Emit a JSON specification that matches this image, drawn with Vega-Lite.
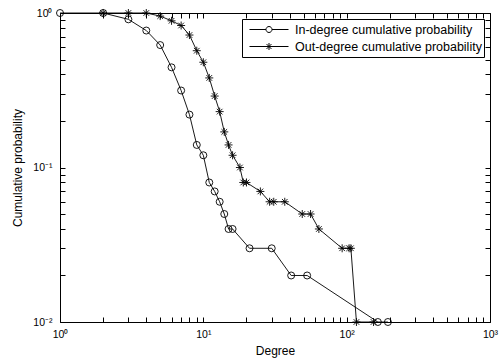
{
  "$schema": "https://vega.github.io/schema/vega-lite/v6.json",
  "width": 430,
  "height": 309,
  "autosize": {"type": "none"},
  "padding": {"left": 60, "top": 13, "right": 12, "bottom": 41},
  "background": "white",
  "config": {
    "view": {"stroke": "black", "strokeWidth": 1},
    "font": "Liberation Sans",
    "axis": {
      "domain": false,
      "grid": false,
      "ticks": true,
      "tickSize": -5,
      "tickColor": "black",
      "tickWidth": 1,
      "labelFont": "Liberation Sans",
      "labelFontSize": 10.5,
      "labelColor": "black",
      "labelOverlap": false,
      "labelFlush": false,
      "titleFont": "Liberation Sans",
      "titleFontSize": 12,
      "titleFontWeight": "normal",
      "titleColor": "black"
    },
    "legend": {
      "labelFont": "Liberation Sans",
      "labelFontSize": 12.5,
      "labelColor": "black",
      "labelLimit": 400
    }
  },
  "datasets": {
    "indeg": [
      {"degree": 1, "prob": 1},
      {"degree": 2, "prob": 1},
      {"degree": 3, "prob": 0.91},
      {"degree": 4, "prob": 0.77},
      {"degree": 5, "prob": 0.62},
      {"degree": 6, "prob": 0.445},
      {"degree": 7, "prob": 0.315},
      {"degree": 8, "prob": 0.22},
      {"degree": 9, "prob": 0.14},
      {"degree": 10, "prob": 0.12},
      {"degree": 11, "prob": 0.08},
      {"degree": 12, "prob": 0.07},
      {"degree": 13, "prob": 0.06},
      {"degree": 14, "prob": 0.05},
      {"degree": 15, "prob": 0.04},
      {"degree": 16, "prob": 0.04},
      {"degree": 21, "prob": 0.03},
      {"degree": 30, "prob": 0.03},
      {"degree": 41, "prob": 0.02},
      {"degree": 53, "prob": 0.02},
      {"degree": 165, "prob": 0.01},
      {"degree": 194, "prob": 0.01}
    ],
    "outdeg": [
      {"degree": 2, "prob": 1},
      {"degree": 3, "prob": 1},
      {"degree": 4, "prob": 1},
      {"degree": 5, "prob": 0.955},
      {"degree": 6, "prob": 0.89},
      {"degree": 7, "prob": 0.83},
      {"degree": 8, "prob": 0.72},
      {"degree": 9, "prob": 0.57},
      {"degree": 10, "prob": 0.48},
      {"degree": 11, "prob": 0.38},
      {"degree": 12, "prob": 0.29},
      {"degree": 13, "prob": 0.23},
      {"degree": 14, "prob": 0.17},
      {"degree": 15, "prob": 0.14},
      {"degree": 16, "prob": 0.12},
      {"degree": 18, "prob": 0.1},
      {"degree": 19, "prob": 0.08},
      {"degree": 20, "prob": 0.08},
      {"degree": 25, "prob": 0.07},
      {"degree": 29, "prob": 0.06},
      {"degree": 31, "prob": 0.06},
      {"degree": 37, "prob": 0.06},
      {"degree": 49, "prob": 0.05},
      {"degree": 56, "prob": 0.05},
      {"degree": 64, "prob": 0.04},
      {"degree": 93, "prob": 0.03},
      {"degree": 104, "prob": 0.03},
      {"degree": 107, "prob": 0.03},
      {"degree": 117, "prob": 0.01},
      {"degree": 154, "prob": 0.01}
    ],
    "legend": [
      {"series": "In-degree cumulative probability"},
      {"series": "Out-degree cumulative probability"}
    ]
  },
  "layer": [
    {
      "data": {"name": "indeg"},
      "mark": {"type": "line", "stroke": "black", "strokeWidth": 0.9},
      "encoding": {
        "x": {
          "field": "degree", "type": "quantitative",
          "scale": {"type": "log", "domain": [1, 1000], "nice": false},
          "axis": {
            "orient": "bottom",
            "title": "Degree",
            "titlePadding": 6,
            "labelPadding": 12,
            "values": [1,2,3,4,5,6,7,8,9,10,20,30,40,50,60,70,80,90,100,200,300,400,500,600,700,800,900,1000],
            "labelExpr": "datum.value === 1 ? '10⁰' : datum.value === 10 ? '10¹' : datum.value === 100 ? '10²' : datum.value === 1000 ? '10³' : ''"
          }
        },
        "y": {
          "field": "prob", "type": "quantitative",
          "scale": {"type": "log", "domain": [0.01, 1], "nice": false},
          "axis": {
            "orient": "left",
            "title": "Cumulative probability",
            "titlePadding": 8,
            "labelPadding": 13,
            "values": [0.01,0.02,0.03,0.04,0.05,0.06,0.07,0.08,0.09,0.1,0.2,0.3,0.4,0.5,0.6,0.7,0.8,0.9,1],
            "labelExpr": "datum.value === 1 ? '10⁰' : datum.value === 0.1 ? '10⁻¹' : datum.value === 0.01 ? '10⁻²' : ''"
          }
        }
      }
    },
    {
      "data": {"name": "indeg"},
      "mark": {"type": "point", "shape": "circle", "size": 49, "filled": false, "stroke": "black", "strokeWidth": 0.9, "opacity": 1},
      "encoding": {
        "x": {"field": "degree", "type": "quantitative", "axis": null},
        "y": {"field": "prob", "type": "quantitative", "axis": null}
      }
    },
    {
      "data": {"name": "outdeg"},
      "mark": {"type": "line", "stroke": "black", "strokeWidth": 0.9},
      "encoding": {
        "x": {
          "field": "degree", "type": "quantitative",
          "axis": {
            "orient": "top", "labels": false, "title": null,
            "values": [1,2,3,4,5,6,7,8,9,10,20,30,40,50,60,70,80,90,100,200,300,400,500,600,700,800,900,1000]
          }
        },
        "y": {
          "field": "prob", "type": "quantitative",
          "axis": {
            "orient": "right", "labels": false, "title": null,
            "values": [0.01,0.02,0.03,0.04,0.05,0.06,0.07,0.08,0.09,0.1,0.2,0.3,0.4,0.5,0.6,0.7,0.8,0.9,1]
          }
        }
      }
    },
    {
      "data": {"name": "outdeg"},
      "mark": {"type": "point", "shape": "M-1,0H1M0,-1V1M-0.7,-0.7L0.7,0.7M-0.7,0.7L0.7,-0.7", "size": 64, "filled": false, "stroke": "black", "strokeWidth": 0.9, "opacity": 1},
      "encoding": {
        "x": {"field": "degree", "type": "quantitative", "axis": null},
        "y": {"field": "prob", "type": "quantitative", "axis": null}
      }
    },
    {
      "data": {"name": "legend"},
      "mark": {"type": "point", "filled": false, "color": "black", "opacity": 0},
      "encoding": {
        "shape": {
          "field": "series", "type": "nominal",
          "scale": {
            "domain": ["In-degree cumulative probability", "Out-degree cumulative probability"],
            "range": [
              "M-0.796,0H-0.122M0.122,0H0.796M0.122,0A0.122,0.122 0 1 1 -0.122,0A0.122,0.122 0 1 1 0.122,0",
              "M-0.796,0H0.796M0,-0.143V0.143M-0.1,-0.1L0.1,0.1M-0.1,0.1L0.1,-0.1"
            ]
          },
          "legend": {
            "title": null,
            "orient": "top-right",
            "offset": 6,
            "padding": 2,
            "clipHeight": 17,
            "rowPadding": 0,
            "symbolSize": 2401,
            "symbolStrokeColor": "black",
            "symbolStrokeWidth": 1,
            "symbolFillColor": "transparent",
            "symbolOpacity": 1,
            "labelOffset": 1,
            "labelLimit": 400,
            "labelExpr": "datum.label + ' '",
            "strokeColor": "black",
            "fillColor": "white"
          }
        }
      }
    }
  ],
  "resolve": {"axis": {"x": "independent", "y": "independent"}}
}
